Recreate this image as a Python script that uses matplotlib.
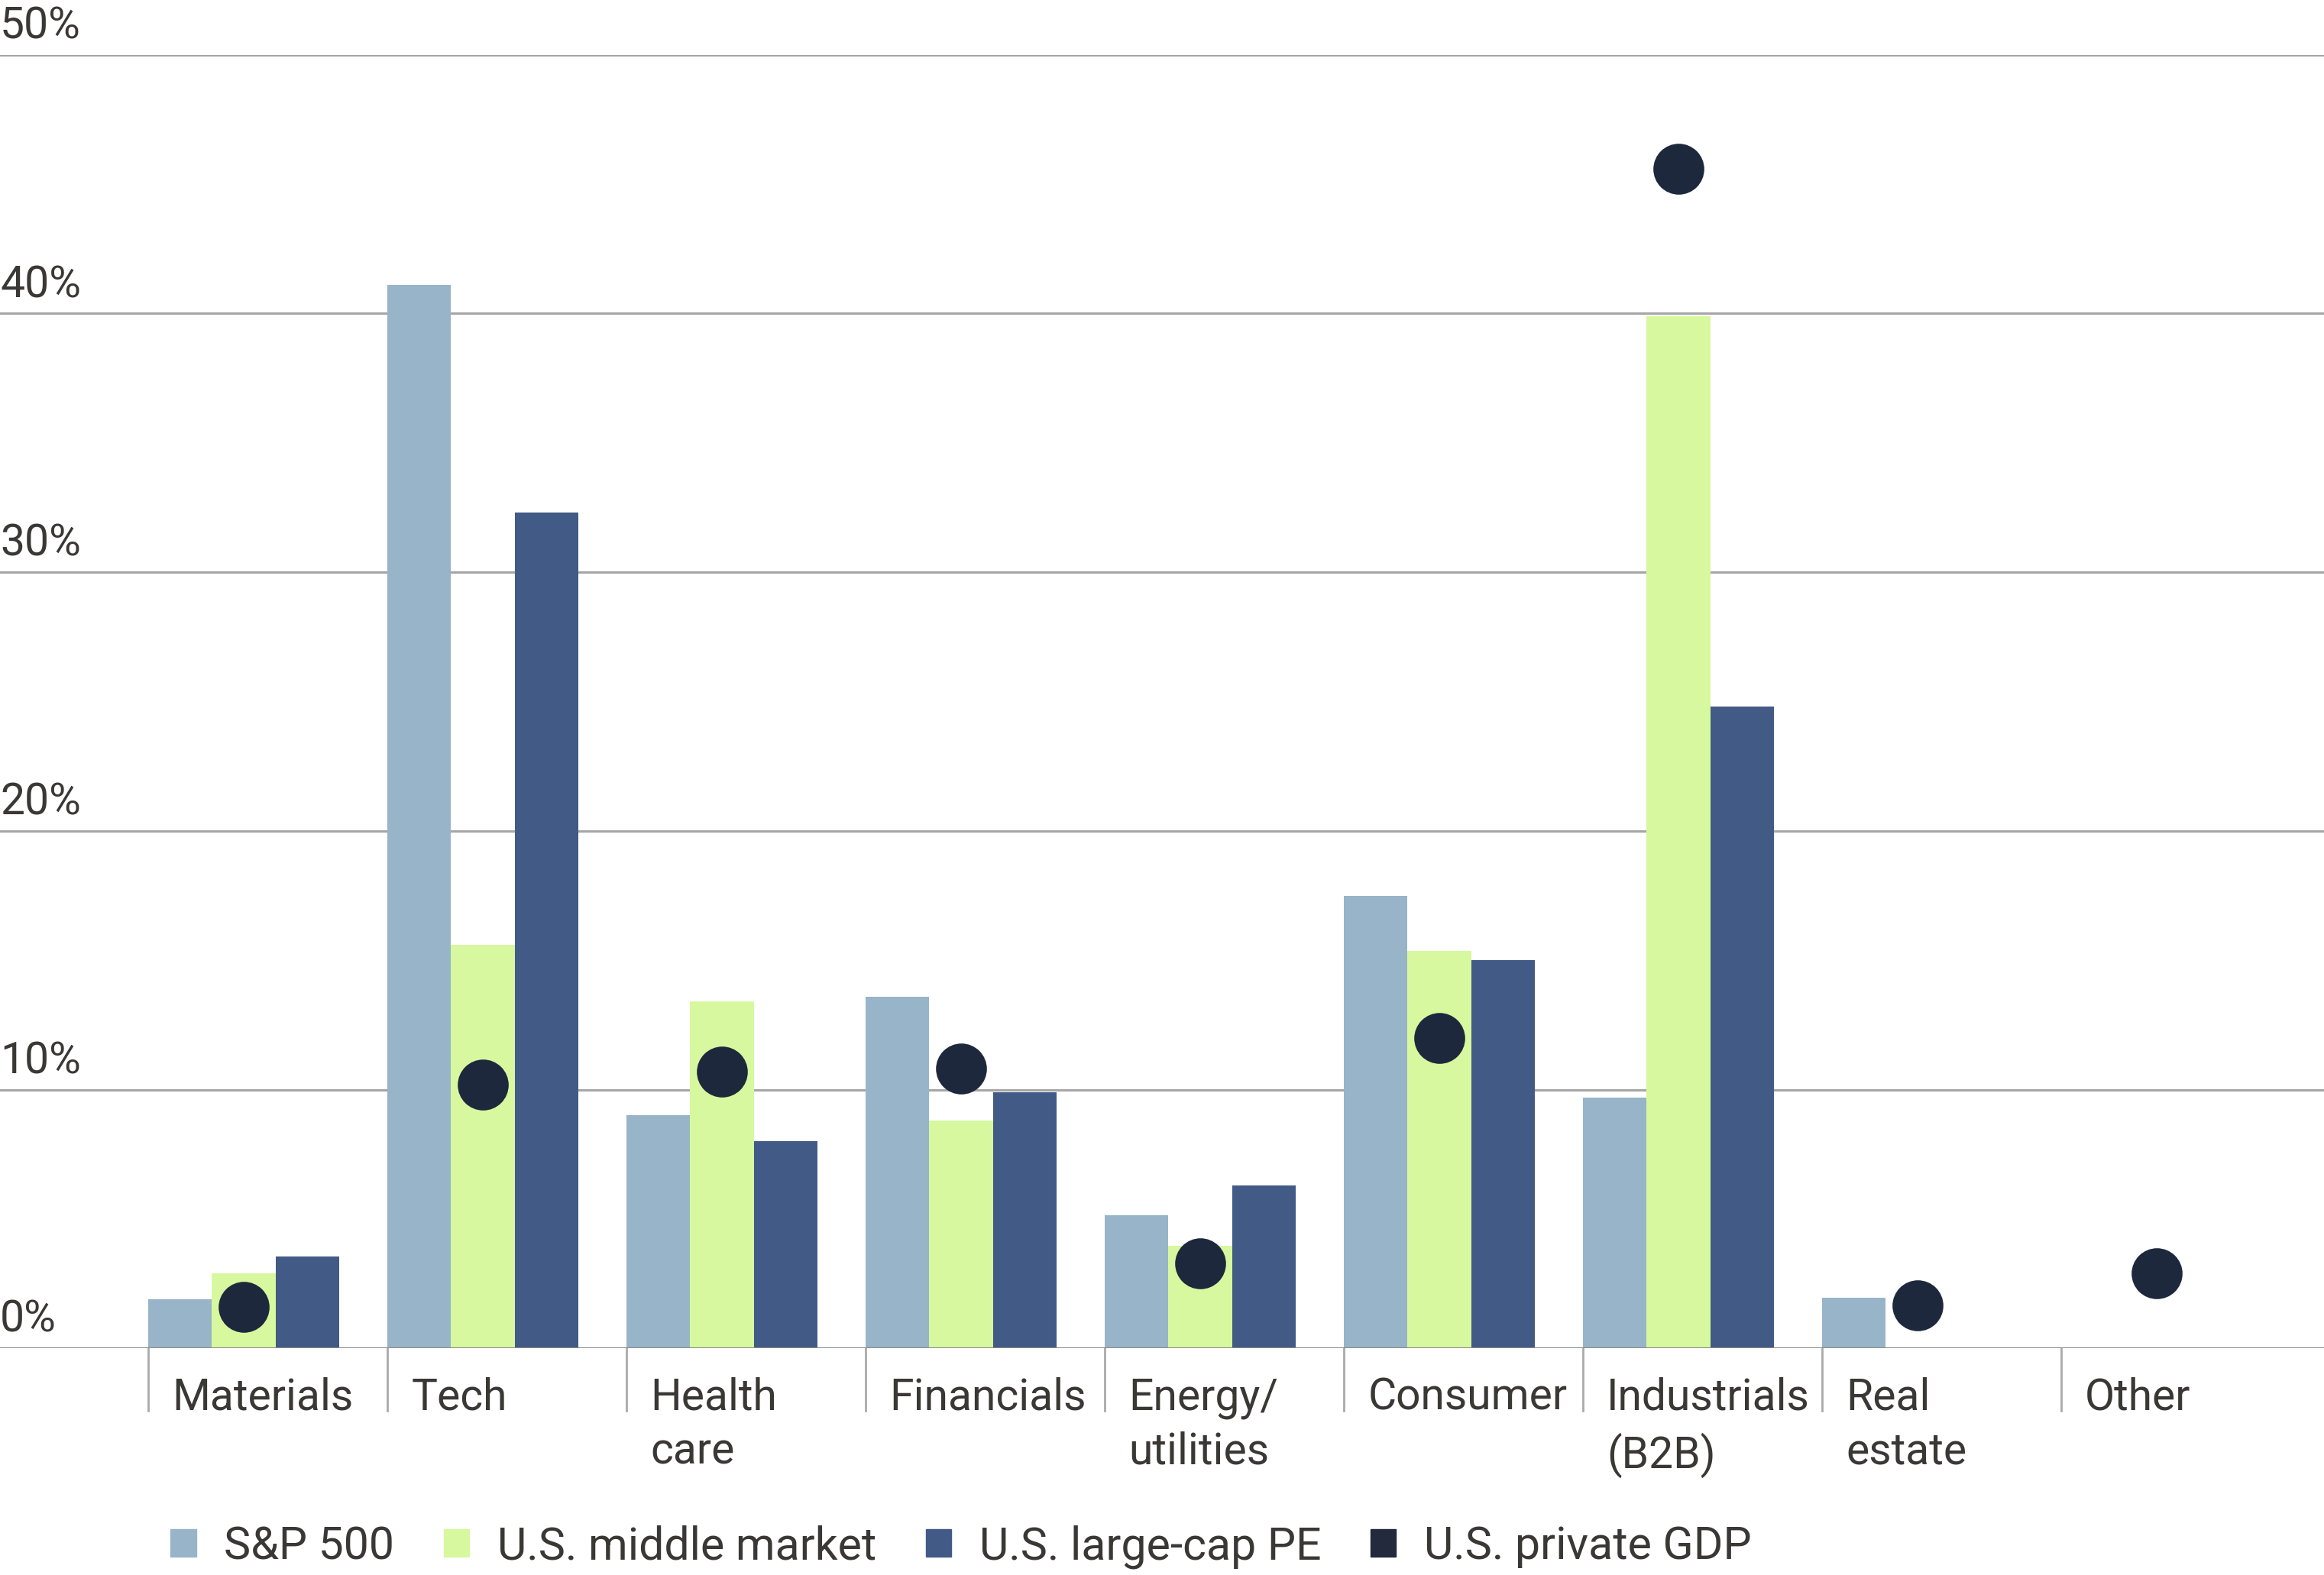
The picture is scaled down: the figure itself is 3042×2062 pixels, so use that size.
import numpy as np
import matplotlib
matplotlib.use("Agg")
import matplotlib.pyplot as plt
from matplotlib.patches import Patch
from matplotlib.transforms import blended_transform_factory

# data (share of total, %)
categories = ["Materials", "Tech", "Health\ncare", "Financials", "Energy/\nutilities",
              "Consumer", "Industrials\n(B2B)", "Real\nestate", "Other"]
sp500 = [1.9, 41.1, 9.0, 13.6, 5.15, 17.5, 9.7, 1.95, np.nan]
middle_market = [2.9, 15.6, 13.4, 8.8, 3.95, 15.35, 39.9, np.nan, np.nan]
large_cap_pe = [3.55, 32.3, 8.0, 9.9, 6.3, 15.0, 24.8, np.nan, np.nan]
private_gdp = [1.6, 10.2, 10.7, 10.8, 3.3, 12.0, 45.6, 1.65, 2.9]
y_ticks = [0, 10, 20, 30, 40, 50]
series_names = ["S&P 500", "U.S. middle market", "U.S. large-cap PE", "U.S. private GDP"]

c_sp = "#98b4c8"
c_mm = "#d7f89e"
c_lc = "#425a86"
c_dot = "#1d283d"
txt = "#3a3835"

plt.rcParams['font.family'] = ['Roboto', 'DejaVu Sans']
fs = 41

fig = plt.figure(figsize=(30.42, 20.62), dpi=100)
ax = fig.add_axes([0.0, 0.1439, 1.0, 0.8213])

x = np.arange(len(categories))
w = 0.2666
ax.bar(x + w / 2, sp500, w, color=c_sp, zorder=2)
ax.bar(x + 1.5 * w, middle_market, w, color=c_mm, zorder=2)
ax.bar(x + 2.5 * w, large_cap_pe, w, color=c_lc, zorder=2)
ax.scatter(x + 1.5 * w, private_gdp, s=2300, color=c_dot, zorder=3, linewidths=0)

ax.set_xlim(-0.62, 9.1)
ax.set_ylim(0, 50)

# gridlines + y labels
for v in y_ticks[1:]:
    ax.axhline(v, color="#a6a6a6", lw=2.2, zorder=1)
ax.axhline(0, color="#8a8a8a", lw=2.2, zorder=4)
trans = blended_transform_factory(ax.transAxes, ax.transData)
for v in y_ticks:
    ax.text(0.0, v + 0.63, f"{v}%", transform=trans, ha="left", va="baseline",
            fontsize=fs, color=txt, clip_on=False)

# category separators and labels
for i, name in enumerate(categories):
    ax.plot([i, i], [0, -2.4], color="#aaaaaa", lw=2, clip_on=False, zorder=1)
    ax.text(i + 0.1, -1.1, name, ha="left", va="top", fontsize=fs, color=txt,
            linespacing=1.38, clip_on=False)

ax.set_xticks([])
ax.set_yticks([])
for s in ax.spines.values():
    s.set_visible(False)

handles = [Patch(color=c_sp), Patch(color=c_mm), Patch(color=c_lc), Patch(color="#232a3d")]
fig.legend(handles, series_names, loc="center left", bbox_to_anchor=(0.056, 0.018),
           ncol=4, frameon=False, fontsize=42.5, handlelength=0.56, handleheight=0.56,
           handletextpad=0.62, columnspacing=1.1, labelcolor=txt)

fig.savefig("out.png", dpi=100, facecolor="white")
